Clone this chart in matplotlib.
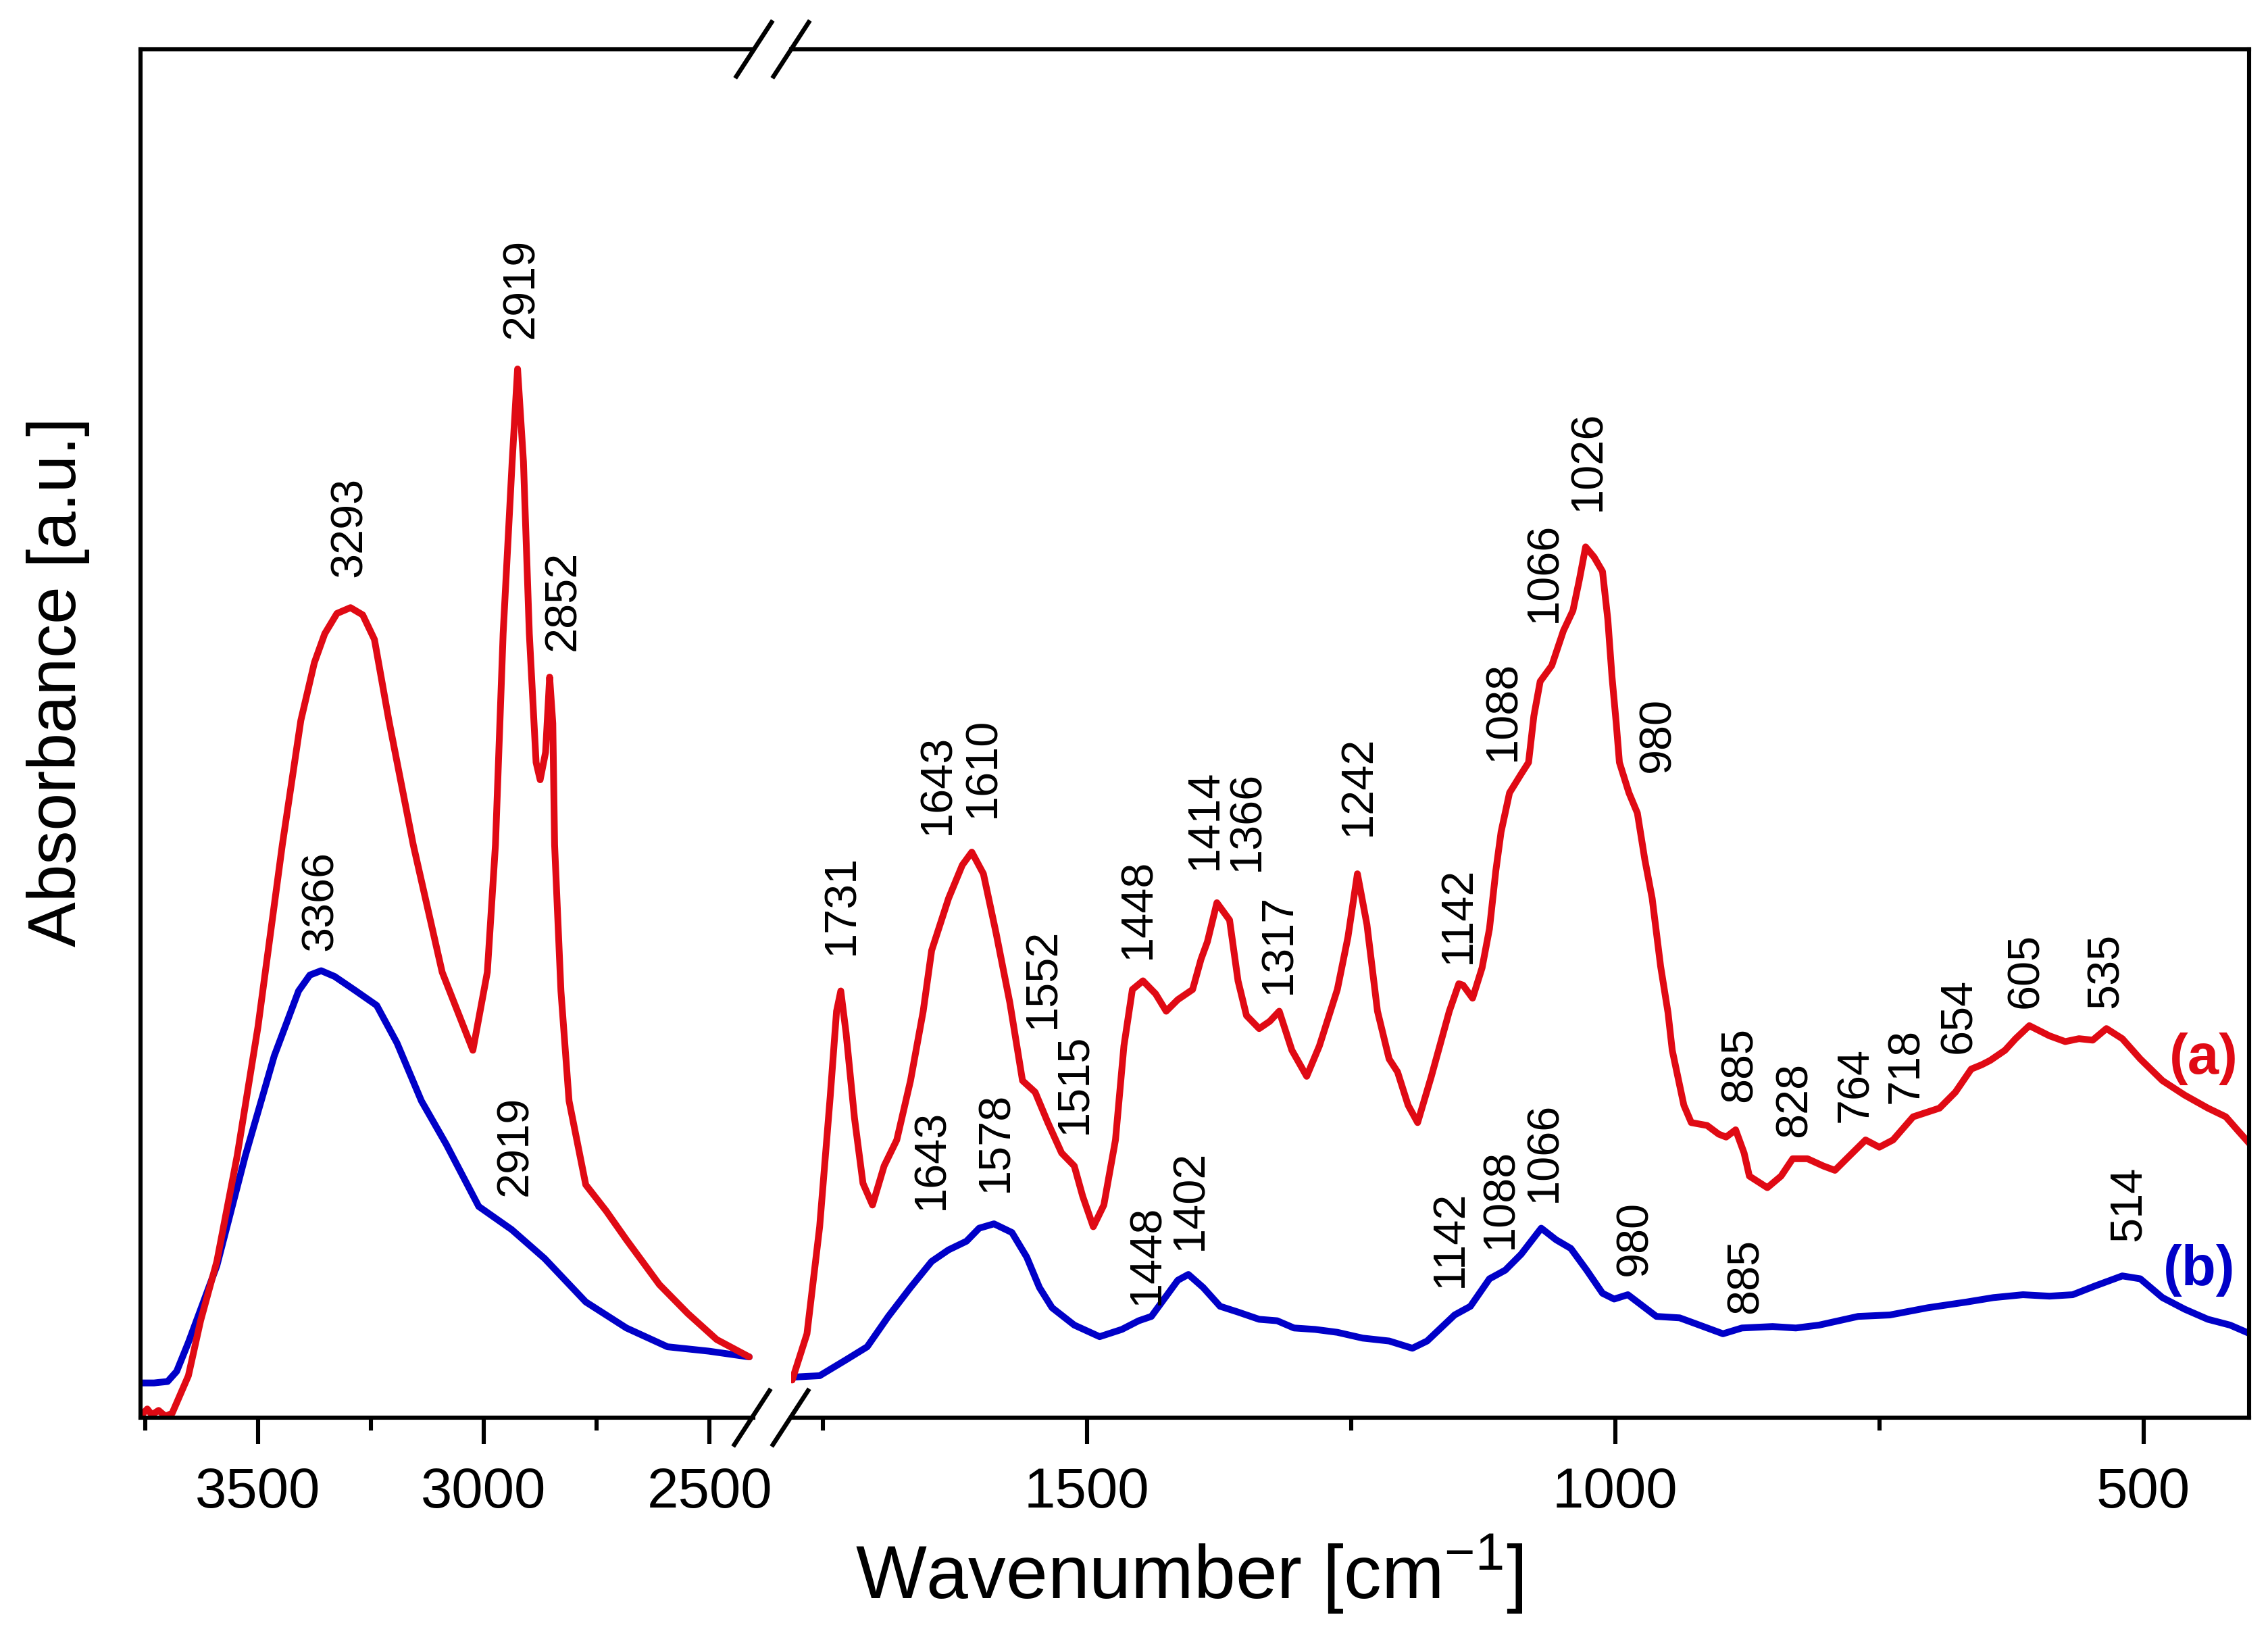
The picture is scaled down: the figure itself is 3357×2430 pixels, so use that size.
import matplotlib
matplotlib.use("Agg")
import matplotlib.pyplot as plt
from matplotlib.lines import Line2D

plt.rcParams['font.family'] = ['Liberation Sans', 'DejaVu Sans']
plt.rcParams['mathtext.default'] = 'regular'

# spectrum (a), high wavenumber part
red_hi_wn = [3760, 3745, 3735, 3720, 3705, 3690, 3654, 3627, 3591, 3546, 3500, 3446,
             3405, 3375, 3352, 3325, 3295, 3268, 3242, 3210, 3156, 3092, 3024, 2992,
             2974, 2957, 2937, 2925, 2912, 2899, 2884, 2875, 2863, 2854, 2847, 2843,
             2829, 2811, 2774, 2729, 2684, 2611, 2548, 2484, 2412]
red_hi_y = [1, 6, 2, 5, 1, 3, 29, 67, 108, 181, 270, 396,
            482, 522, 542, 556, 560, 555, 538, 482, 396, 308, 254, 308,
            396, 542, 661, 725, 661, 542, 453, 441, 460, 512, 480, 396,
            295, 219, 161, 143, 123, 92, 72, 54, 42]

# spectrum (b), high wavenumber part
blue_hi_wn = [3760, 3730, 3700, 3680, 3654, 3591, 3528, 3464, 3410, 3385, 3360, 3330,
              3283, 3237, 3192, 3138, 3083, 3011, 2938, 2865, 2774, 2684, 2593, 2502, 2412]
blue_hi_y = [24, 24, 25, 32, 52, 105, 181, 250, 295, 306, 309, 305,
             295, 285, 259, 219, 189, 146, 130, 110, 80, 62, 49, 46, 42]

# spectrum (a), fingerprint part
red_lo_wn = [1779, 1765, 1753, 1743, 1737, 1733, 1728, 1720, 1712, 1703, 1692, 1680,
             1667, 1655, 1647, 1631, 1618, 1609, 1598, 1586, 1573, 1561, 1549, 1537,
             1524, 1512, 1504, 1494, 1484, 1473, 1465, 1457, 1447, 1435, 1425, 1414,
             1400, 1392, 1386, 1377, 1365, 1357, 1349, 1337, 1327, 1318, 1306, 1292,
             1280, 1263, 1253, 1244, 1235, 1225, 1214, 1206, 1196, 1187, 1174, 1157,
             1148, 1144, 1135, 1126, 1119, 1113, 1108, 1100, 1089, 1082, 1077, 1071,
             1060, 1049, 1040, 1034, 1028, 1020, 1012, 1007, 1003, 999, 996, 987,
             979, 972, 965, 957, 950, 946, 935, 928, 913, 902, 895, 886,
             878, 873, 856, 843, 832, 818, 803, 792, 781, 763, 750, 737,
             718, 693, 678, 663, 653, 645, 631, 621, 608, 589, 574, 561,
             548, 535, 520, 503, 482, 461, 439, 422, 410, 399]
red_lo_y = [26, 58, 132, 222, 281, 295, 266, 207, 162, 147, 174, 192,
            233, 281, 323, 359, 382, 391, 376, 335, 287, 233, 225, 204,
            183, 174, 153, 132, 147, 192, 257, 296, 302, 293, 281, 289,
            296, 317, 329, 356, 344, 302, 278, 269, 274, 281, 254, 236,
            257, 296, 332, 376, 341, 281, 248, 239, 216, 204, 236, 281,
            300, 299, 290, 311, 338, 378, 405, 432, 445, 453, 485, 509,
            520, 544, 558, 579, 602, 595, 585, 552, 512, 480, 453, 432,
            418, 386, 359, 312, 280, 254, 216, 204, 202, 196, 194, 199,
            183, 167, 159, 167, 179, 179, 174, 171, 179, 192, 187, 192,
            208, 214, 225, 241, 244, 247, 254, 262, 271, 264, 260, 262,
            261, 269, 262, 248, 233, 223, 214, 208, 198, 189]

# spectrum (b), fingerprint part
blue_lo_wn = [1779, 1753, 1728, 1708, 1688, 1667, 1647, 1631, 1614, 1602, 1588, 1571,
              1557, 1545, 1533, 1512, 1488, 1467, 1451, 1439, 1427, 1414, 1404, 1390,
              1374, 1357, 1337, 1320, 1304, 1284, 1263, 1239, 1214, 1192, 1178, 1152,
              1137, 1119, 1104, 1089, 1070, 1056, 1042, 1027, 1012, 1001, 988, 979,
              961, 939, 924, 898, 880, 851, 829, 807, 770, 740, 704, 667,
              642, 614, 589, 567, 546, 520, 503, 482, 461, 439, 418, 399]
blue_lo_y = [28, 29, 40, 49, 70, 90, 108, 116, 122, 131, 134, 128,
             111, 90, 76, 64, 56, 61, 67, 70, 82, 95, 99, 90,
             77, 73, 68, 67, 62, 61, 59, 55, 53, 48, 53, 71,
             77, 96, 102, 113, 131, 123, 117, 102, 86, 82, 85, 80,
             70, 69, 65, 58, 62, 63, 62, 64, 70, 71, 76, 80,
             83, 85, 84, 85, 91, 98, 96, 83, 75, 68, 64, 58]

# peak labels: text, x position, y of text start
red_hi_lab = ['3293', '2919', '2852']
red_hi_lab_x = [3297, 2916, 2823]
red_hi_lab_y = [581, 746, 530]
blue_hi_lab = ['3366', '2919']
blue_hi_lab_x = [3360, 2929]
blue_hi_lab_y = [323, 153]

red_lo_lab = ['1731', '1643', '1610', '1552', '1515', '1448', '1414', '1366', '1317',
              '1242', '1142', '1088', '1066', '1026', '980', '885', '828', '764',
              '718', '654', '605', '535']
red_lo_lab_x = [1732, 1641, 1598, 1541, 1512, 1451, 1388, 1348, 1318,
                1243, 1148, 1106, 1067, 1025, 959, 882, 830, 772,
                724, 674, 611, 535]
red_lo_lab_y = [320, 403, 415, 269, 196, 317, 379, 378, 293,
                402, 314, 454, 550, 627, 446, 218, 194, 204,
                217, 252, 283, 283]
blue_lo_lab = ['1643', '1578', '1448', '1402', '1142', '1088', '1066', '980', '885', '514']
blue_lo_lab_x = [1647, 1586, 1443, 1402, 1156, 1108, 1067, 981, 876, 514]
blue_lo_lab_y = [144, 156, 78, 116, 90, 117, 149, 98, 72, 122]

RED = '#E00A14'
BLUE = '#0000C8'
W, H = 3357, 2430
LW = 3.6
SPW = 2.2


def style_axis(ax):
    ax.set_ylim(0, 946)
    ax.set_yticks([])
    for s in ax.spines.values():
        s.set_linewidth(SPW)
    ax.tick_params(axis='x', which='major', direction='out', length=14, width=SPW,
                   labelsize=30, pad=12)
    ax.tick_params(axis='x', which='minor', direction='out', length=7, width=SPW)


def put_labels(ax, labels, xs, ys):
    for t, x, y in zip(labels, xs, ys):
        ax.text(x, y, t, rotation=90, ha='center', va='bottom', fontsize=24)


fig = plt.figure(figsize=(W / 200, H / 200), dpi=200)
y0 = 1 - 2098 / H
hgt = (2098 - 73) / H
ax1 = fig.add_axes([208 / W, y0, (1115 - 208) / W, hgt])
ax2 = fig.add_axes([1171 / W, y0, (3329 - 1171) / W, hgt])

for ax, wn, y, c in [(ax1, blue_hi_wn, blue_hi_y, BLUE), (ax1, red_hi_wn, red_hi_y, RED),
                     (ax2, blue_lo_wn, blue_lo_y, BLUE), (ax2, red_lo_wn, red_lo_y, RED)]:
    ax.plot(wn, y, color=c, lw=LW, solid_joinstyle='round', solid_capstyle='round')

ax1.set_xlim(3760, 2403)
ax2.set_xlim(1780, 400)
ax1.set_xticks([3500, 3000, 2500])
ax1.set_xticks([3750, 3250, 2750], minor=True)
ax2.set_xticks([1500, 1000, 500])
ax2.set_xticks([1750, 1250, 750], minor=True)
style_axis(ax1)
style_axis(ax2)
ax1.spines['right'].set_visible(False)
ax2.spines['left'].set_visible(False)

put_labels(ax1, red_hi_lab, red_hi_lab_x, red_hi_lab_y)
put_labels(ax1, blue_hi_lab, blue_hi_lab_x, blue_hi_lab_y)
put_labels(ax2, red_lo_lab, red_lo_lab_x, red_lo_lab_y)
put_labels(ax2, blue_lo_lab, blue_lo_lab_x, blue_lo_lab_y)

ax2.text(443, 248, '(a)', color=RED, fontsize=30, fontweight='bold', ha='center', va='center')
ax2.text(447, 102, '(b)', color=BLUE, fontsize=30, fontweight='bold', ha='center', va='center')

# axis break marks
for cx, cy in [(1116, 73), (1171, 73), (1113, 2098), (1170, 2098)]:
    fig.add_artist(Line2D([(cx - 26) / W, (cx + 26) / W],
                          [1 - (cy + 40) / H, 1 - (cy - 40) / H],
                          transform=fig.transFigure, color='black', lw=2.4))

fig.text(1760 / W, 64 / H, 'Wavenumber [cm$^{-1}$]', ha='center', va='baseline', fontsize=40)
fig.text(86 / W, 1 - 1009 / H, 'Absorbance [a.u.]', rotation=90, ha='center', va='center',
         fontsize=36)

fig.savefig('out.png', dpi=200, facecolor='white')
